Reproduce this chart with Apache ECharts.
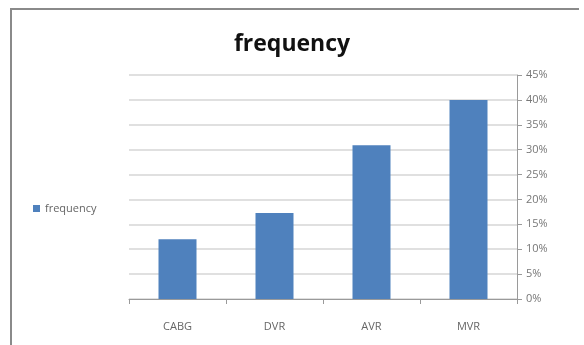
<!DOCTYPE html>
<html>
<head>
<meta charset="utf-8">
<script src="https://cdn.jsdelivr.net/npm/echarts@6/dist/echarts.min.js"></script>
<style>html,body{margin:0;padding:0;background:#fff;}#c{width:584px;height:345px;}</style>
</head>
<body>
<div id="c"></div>
<script>
const categories = ['CABG', 'DVR', 'AVR', 'MVR'];
const frequencyValues = [12.0, 17.3, 30.9, 40.0];
const seriesName = 'frequency';
const titleText = 'frequency';

const chart = echarts.init(document.getElementById('c'), null, {renderer: 'canvas'});
chart.setOption({
  backgroundColor: '#ffffff',
  animation: false,
  title: {
    text: titleText, left: 'center', top: 28,
    textStyle: {fontFamily: 'Open Sans', fontWeight: 'bold', fontSize: 23, color: '#111'}
  },
  legend: {
    data: [seriesName], left: 28, top: 198, orient: 'vertical',
    itemWidth: 7, itemHeight: 7, itemGap: 4, icon: 'rect',
    textStyle: {fontFamily: 'Open Sans', fontSize: 11, color: '#666'}
  },
  grid: {left: 129, right: 67, top: 75, bottom: 46, containLabel: false},
  xAxis: {
    type: 'category', data: categories,
    axisLine: {lineStyle: {color: '#9a9a9a'}},
    axisTick: {show: true, length: 5, lineStyle: {color: '#9a9a9a'}},
    axisLabel: {fontFamily: 'Open Sans', fontSize: 11, color: '#666', margin: 22}
  },
  yAxis: {
    type: 'value', position: 'right', min: 0, max: 45, interval: 5,
    axisLine: {show: true, lineStyle: {color: '#9a9a9a'}},
    axisTick: {show: true, length: 5, lineStyle: {color: '#9a9a9a'}},
    axisLabel: {formatter: '{value}%', fontFamily: 'Open Sans', fontSize: 11, color: '#777', margin: 9},
    splitLine: {lineStyle: {color: '#d6d6d6', width: 1.5}}
  },
  series: [{
    name: seriesName, type: 'bar', data: frequencyValues,
    barWidth: 38,
    itemStyle: {color: '#4f81bd'}
  }],
  graphic: [{
    type: 'polyline', shape: {points: [[11, 345], [11, 9], [579, 9]]},
    style: {fill: 'none', stroke: '#8a8a8a', lineWidth: 2}, silent: true
  }]
});
</script>
</body>
</html>
